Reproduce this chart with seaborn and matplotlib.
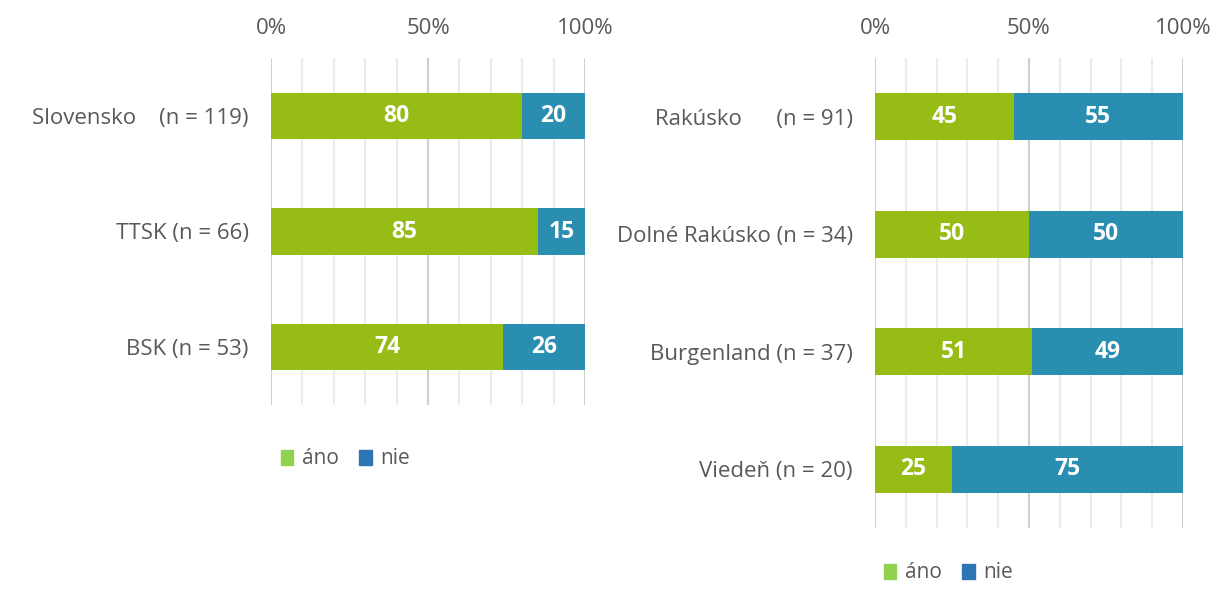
import numpy as np
import pandas as pd
import seaborn as sns
from matplotlib import pyplot as plt
from matplotlib.patches import Patch

# data
labels_sk = ["Slovensko    (n = 119)", "TTSK (n = 66)", "BSK (n = 53)"]
ano_sk = [80, 85, 74]
nie_sk = [20, 15, 26]

labels_at = ["Rakúsko      (n = 91)", "Dolné Rakúsko (n = 34)", "Burgenland (n = 37)", "Viedeň (n = 20)"]
ano_at = [45, 50, 51, 25]
nie_at = [55, 50, 49, 75]

legend_labels = ["áno", "nie"]

GREEN = "#97bc16"
BLUE = "#2a8eb1"
GRAY = "#595959"

sns.set_style("white")
plt.rcParams['font.family'] = ['Open Sans', 'DejaVu Sans']

fig = plt.figure(figsize=(12.11, 6.03), dpi=100)
ax1 = fig.add_axes([271 / 1211, 1 - 405 / 603, 314 / 1211, 347 / 603])
ax2 = fig.add_axes([875 / 1211, 1 - 528 / 603, 308 / 1211, 470 / 603])


def panel(ax, labels, ano, nie):
    df = pd.DataFrame({'label': labels, 'ano': ano, 'nie': nie})
    df['total'] = df['ano'] + df['nie']
    sns.barplot(data=df, x='total', y='label', color=BLUE, orient='h', width=0.4,
                linewidth=0, saturation=1, ax=ax)
    sns.barplot(data=df, x='ano', y='label', color=GREEN, orient='h', width=0.4,
                linewidth=0, saturation=1, ax=ax)
    # labels in the middle of each segment
    ax.bar_label(ax.containers[1], labels=[str(v) for v in df['ano']], label_type='center',
                 color='white', fontsize=16.5, fontweight='bold')
    for i, row in df.iterrows():
        ax.text(row['ano'] + row['nie'] / 2, i, str(row['nie']), ha='center', va='center',
                color='white', fontsize=16.5, fontweight='bold')

    ax.set_xlim(0, 100)
    ax.set_ylim(len(labels) - 0.5, -0.5)
    ax.xaxis.tick_top()
    ax.set_xticks([0, 50, 100])
    ax.set_xticklabels(["0%", "50%", "100%"])
    ax.set_xticks(np.arange(0, 101, 10), minor=True)
    ax.grid(True, axis='x', which='major', color='#cfcfcf', linewidth=1.5)
    ax.grid(True, axis='x', which='minor', color='#ebebeb', linewidth=1.5)
    ax.set_axisbelow(True)
    ax.tick_params(axis='x', which='both', length=0, pad=14, labelsize=16, labelcolor=GRAY)
    ax.tick_params(axis='y', length=0, pad=16, labelsize=16, labelcolor=GRAY)
    ax.set_xlabel("")
    ax.set_ylabel("")
    for s in ax.spines.values():
        s.set_visible(False)


panel(ax1, labels_sk, ano_sk, nie_sk)
panel(ax2, labels_at, ano_at, nie_at)

handles = [Patch(color="#92d050"), Patch(color="#2e75b6")]
for x, y in [(262 / 1211, 1 - 459 / 603), (865 / 1211, 1 - 573 / 603)]:
    fig.legend(handles, legend_labels, loc='center left', bbox_to_anchor=(x, y), ncol=2,
               frameon=False, handlelength=0.6, handleheight=0.7, handletextpad=0.4,
               columnspacing=1.0, fontsize=15, labelcolor=GRAY)

plt.savefig("out.png", dpi=100)
